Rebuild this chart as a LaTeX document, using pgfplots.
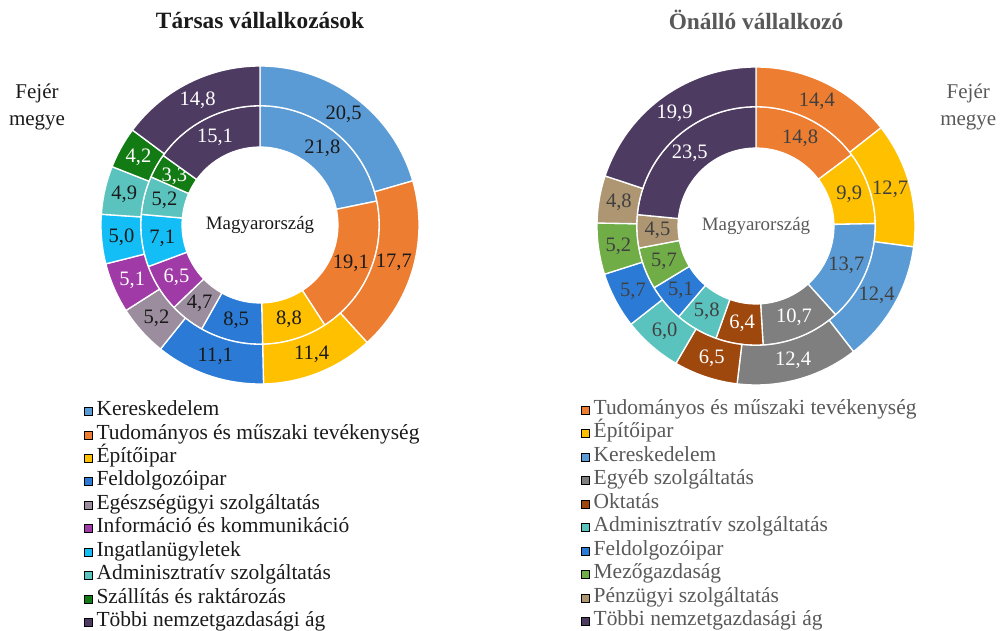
\documentclass[border=0pt]{standalone}
\usepackage{pgfplots}
\pgfplotsset{compat=1.18}
\usepackage{pgfplotstable}
\usepackage{fontspec}
\setmainfont{Liberation Serif}

\pgfkeys{/pgf/number format/assume math mode=true}

% Társas vállalkozások: Fejér megye (outer) and Magyarország (inner)
\pgfplotstableread{
fejer orsz
20.5 21.8
17.7 19.1
11.4 8.8
11.1 8.5
5.2 4.7
5.1 6.5
5.0 7.1
4.9 5.2
4.2 3.3
14.8 15.1
}\tarsas
% Önálló vállalkozó
\pgfplotstableread{
fejer orsz
14.4 14.8
12.7 9.9
12.4 13.7
12.4 10.7
6.5 6.4
6.0 5.8
5.7 5.1
5.2 5.7
4.8 4.5
19.9 23.5
}\onallo
\pgfplotstablecreatecol[create col/expr accum={\pgfmathaccuma+\thisrow{fejer}}{0}]{cf}\tarsas
\pgfplotstablecreatecol[create col/expr accum={\pgfmathaccuma+\thisrow{orsz}}{0}]{co}\tarsas
\pgfplotstablecreatecol[create col/expr accum={\pgfmathaccuma+\thisrow{fejer}}{0}]{cf}\onallo
\pgfplotstablecreatecol[create col/expr accum={\pgfmathaccuma+\thisrow{orsz}}{0}]{co}\onallo

% fill colours
\definecolor{TF0}{HTML}{5B9BD5}
\definecolor{TF1}{HTML}{ED7D31}
\definecolor{TF2}{HTML}{FFC000}
\definecolor{TF3}{HTML}{2B7BD6}
\definecolor{TF4}{HTML}{9C8D9E}
\definecolor{TF5}{HTML}{9F3AA6}
\definecolor{TF6}{HTML}{12BEF5}
\definecolor{TF7}{HTML}{5BC3BE}
\definecolor{TF8}{HTML}{137B13}
\definecolor{TF9}{HTML}{4E3B62}
\definecolor{OF0}{HTML}{ED7D31}
\definecolor{OF1}{HTML}{FFC000}
\definecolor{OF2}{HTML}{5B9BD5}
\definecolor{OF3}{HTML}{7F7F7F}
\definecolor{OF4}{HTML}{9E480E}
\definecolor{OF5}{HTML}{5BC3BE}
\definecolor{OF6}{HTML}{2B7BD6}
\definecolor{OF7}{HTML}{70AD47}
\definecolor{OF8}{HTML}{AE9672}
\definecolor{OF9}{HTML}{4E3B62}
% label colours
\definecolor{darkT}{HTML}{1A1A1A}
\definecolor{darkO}{HTML}{404040}
\definecolor{txtR}{HTML}{595959}
\colorlet{TL0}{darkT}\colorlet{TL1}{darkT}\colorlet{TL2}{darkT}\colorlet{TL3}{darkT}
\colorlet{TL4}{darkT}\colorlet{TL5}{white}\colorlet{TL6}{darkT}\colorlet{TL7}{darkT}
\colorlet{TL8}{white}\colorlet{TL9}{white}
\colorlet{OL0}{darkO}\colorlet{OL1}{darkO}\colorlet{OL2}{darkO}\colorlet{OL3}{white}
\colorlet{OL4}{white}\colorlet{OL5}{darkO}\colorlet{OL6}{darkO}\colorlet{OL7}{darkO}
\colorlet{OL8}{darkO}\colorlet{OL9}{white}

\newcommand\numfont{\fontsize{15.4}{16}\selectfont}

% #1 table, #2 value col, #3 cumulative col, #4 r_in, #5 r_out, #6 fill prefix, #7 label prefix
\newcommand\ring[7]{%
  \pgfplotstablegetelem{9}{#3}\of{#1}\let\rtot\pgfplotsretval
  \pgfplotsforeachungrouped \ii in {0,...,9}{%
    \pgfplotstablegetelem{\ii}{#3}\of{#1}\let\rce\pgfplotsretval
    \pgfplotstablegetelem{\ii}{#2}\of{#1}\let\rval\pgfplotsretval
    \pgfmathsetmacro\fA{\rce/\rtot}%
    \pgfmathsetmacro\fB{(\rce-\rval)/\rtot}%
    \pgfmathsetmacro\angA{90-360*\fA}%
    \pgfmathsetmacro\angB{90-360*\fB}%
    \pgfmathsetmacro\angD{\angB-\angA}%
    \pgfmathsetmacro\angM{(\angA+\angB)/2}%
    \pgfmathsetmacro\lx{(#4+#5)/2*cos(\angM)}%
    \pgfmathsetmacro\ly{(#4+#5)/2*sin(\angM)}%
    \edef\rcmd{%
      \noexpand\addplot[forget plot, fill=#6\ii, draw=white, line width=1pt, line join=miter,
        variable=\noexpand\tt, samples at={0,...,40,60,61,...,100}]
        ({((\noexpand\tt<50)?#5:#4)*cos((\noexpand\tt<50)?(\angA+\noexpand\tt/40*\angD):(\angB-(\noexpand\tt-60)/40*\angD))},
         {((\noexpand\tt<50)?#5:#4)*sin((\noexpand\tt<50)?(\angA+\noexpand\tt/40*\angD):(\angB-(\noexpand\tt-60)/40*\angD))}) -- cycle;
      \noexpand\node[font=\noexpand\numfont, text=#7\ii] at (axis cs:\lx,\ly) {\noexpand\pgfmathprintnumber[fixed,fixed zerofill,precision=1,use comma]{\rval}};
    }%
    \rcmd
  }%
}

\pgfplotsset{
  donut/.style={
    anchor=center, width=238.5pt, height=238.5pt, scale only axis,
    xmin=-1, xmax=1, ymin=-1, ymax=1, hide axis, clip=false,
    legend cell align=left,
    legend image code/.code={\fill[##1] (0pt,-3pt) rectangle (6pt,3pt);},
    title style={at={(0.5,1.094)}, anchor=base, yshift=0pt, inner sep=0pt, font=\fontsize{17.5}{20}\selectfont\bfseries},
  },
}

\begin{document}
\begin{tikzpicture}
\path[use as bounding box] (0pt,0pt) rectangle (751.5pt,473.25pt);

\begin{axis}[donut, at={(195pt,304.5pt)},
  title={Társas vállalkozások}, title style={text=darkT},
  legend style={at={(-0.0535,-0.049)}, anchor=north west, draw=none, fill=none,
    inner sep=0pt, outer sep=0pt, row sep=0pt, column sep=2pt,
    nodes={inner ysep=0pt, inner xsep=1pt, text height=12pt, text depth=5.6pt,
      font=\fontsize{16.1}{18}\selectfont, text=darkT}}]
\addlegendimage{fill=TF0}\addlegendentry{Kereskedelem}
\addlegendimage{fill=TF1}\addlegendentry{Tudományos és műszaki tevékenység}
\addlegendimage{fill=TF2}\addlegendentry{Építőipar}
\addlegendimage{fill=TF3}\addlegendentry{Feldolgozóipar}
\addlegendimage{fill=TF4}\addlegendentry{Egészségügyi szolgáltatás}
\addlegendimage{fill=TF5}\addlegendentry{Információ és kommunikáció}
\addlegendimage{fill=TF6}\addlegendentry{Ingatlanügyletek}
\addlegendimage{fill=TF7}\addlegendentry{Adminisztratív szolgáltatás}
\addlegendimage{fill=TF8}\addlegendentry{Szállítás és raktározás}
\addlegendimage{fill=TF9}\addlegendentry{Többi nemzetgazdasági ág}
\ring{\tarsas}{orsz}{co}{0.49}{0.75}{TF}{TL}
\ring{\tarsas}{fejer}{cf}{0.75}{1}{TF}{TL}
\node[font=\fontsize{14.2}{16}\selectfont, text=darkT] at (axis cs:0,0) {Magyarország};
\node[align=center, font=\fontsize{15.75}{20.25}\selectfont, text=darkT] at (axis cs:-1.4025,0.745) {Fejér\\megye};
\end{axis}

\begin{axis}[donut, at={(567pt,303.75pt)},
  title={Önálló vállalkozó}, title style={text=txtR},
  legend style={at={(-0.05,-0.042)}, anchor=north west, draw=none, fill=none,
    inner sep=0pt, outer sep=0pt, row sep=0pt, column sep=2pt,
    nodes={inner ysep=0pt, inner xsep=1pt, text height=12pt, text depth=5.6pt,
      font=\fontsize{16.1}{18}\selectfont, text=txtR}}]
\addlegendimage{fill=OF0}\addlegendentry{Tudományos és műszaki tevékenység}
\addlegendimage{fill=OF1}\addlegendentry{Építőipar}
\addlegendimage{fill=OF2}\addlegendentry{Kereskedelem}
\addlegendimage{fill=OF3}\addlegendentry{Egyéb szolgáltatás}
\addlegendimage{fill=OF4}\addlegendentry{Oktatás}
\addlegendimage{fill=OF5}\addlegendentry{Adminisztratív szolgáltatás}
\addlegendimage{fill=OF6}\addlegendentry{Feldolgozóipar}
\addlegendimage{fill=OF7}\addlegendentry{Mezőgazdaság}
\addlegendimage{fill=OF8}\addlegendentry{Pénzügyi szolgáltatás}
\addlegendimage{fill=OF9}\addlegendentry{Többi nemzetgazdasági ág}
\ring{\onallo}{orsz}{co}{0.49}{0.75}{OF}{OL}
\ring{\onallo}{fejer}{cf}{0.75}{1}{OF}{OL}
\node[font=\fontsize{14.2}{16}\selectfont, text=txtR] at (axis cs:0,0) {Magyarország};
\node[align=center, font=\fontsize{15.75}{20.25}\selectfont, text=txtR] at (axis cs:1.335,0.748) {Fejér\\megye};
\end{axis}
\end{tikzpicture}
\end{document}
